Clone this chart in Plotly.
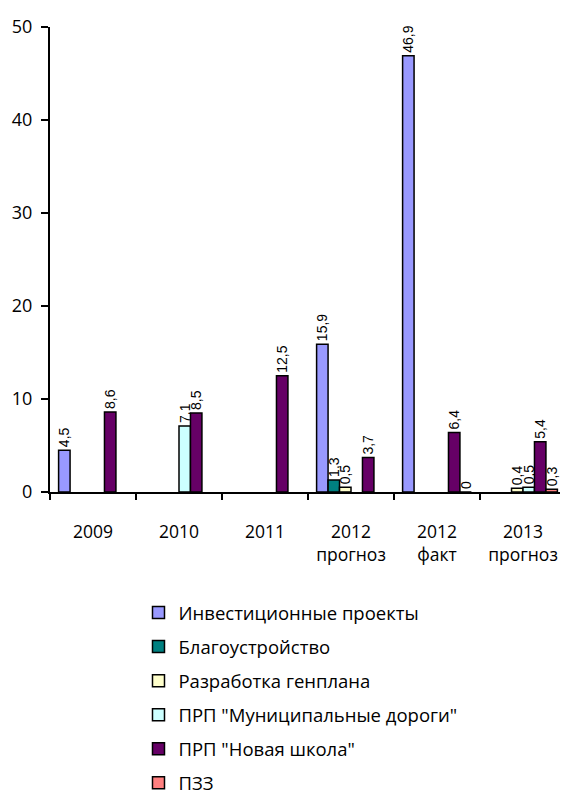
import plotly.graph_objects as go

categories = ["2009", "2010", "2011", "2012<br>прогноз", "2012<br>факт", "2013<br>прогноз"]

series_names = [
    "Инвестиционные проекты",
    "Благоустройство",
    "Разработка генплана",
    "ПРП \"Муниципальные дороги\"",
    "ПРП \"Новая школа\"",
    "ПЗЗ",
]
invest = [4.5, None, None, 15.9, 46.9, None]
blago = [None, None, None, 1.3, None, None]
genplan = [None, None, None, 0.5, None, 0.4]
dorogi = [None, 7.1, None, None, None, 0.5]
shkola = [8.6, 8.5, 12.5, 3.7, 6.4, 5.4]
pzz = [None, None, None, None, 0, 0.3]

colors = ["#9999FF", "#008080", "#FFFFCC", "#CCFFFF", "#660066", "#FF8080"]
values = [invest, blago, genplan, dorogi, shkola, pzz]

fig = go.Figure()
for i, (name, vals, col) in enumerate(zip(series_names, values, colors)):
    fig.add_trace(go.Bar(
        x=categories, y=vals, name=name,
        marker=dict(color=col, line=dict(color="black", width=1.5)),
        texttemplate="%{y}", textposition="outside", textangle=-90,
        constraintext="none",
        textfont=dict(family="Liberation Sans", size=14, color="black"),
        cliponaxis=False, legendgroup="g%d" % i,
    ))

fig.update_layout(
    width=560, height=810,
    margin=dict(l=42, r=2, t=19, b=326),
    paper_bgcolor="white", plot_bgcolor="white",
    separators=",.",
    barmode="group", bargap=0.2, bargroupgap=0,
    font=dict(family="Open Sans", size=14, color="black"),
    showlegend=True,
    legend=dict(
        x=0.1715, y=-0.2194, xanchor="left", yanchor="top",
        orientation="v", tracegroupgap=7,
        font=dict(family="Open Sans", size=18.5, color="black"),
        itemwidth=30,
    ),
)
fig.update_xaxes(
    type="category", showline=True, linecolor="black", linewidth=2,
    ticks="outside", tickson="boundaries", ticklen=6, tickwidth=2, tickcolor="black",
    tickfont=dict(family="Open Sans", size=17.5, color="black"),
    ticklabelstandoff=23,
    showgrid=False, zeroline=False, automargin=False,
)
fig.update_yaxes(
    range=[0, 50], dtick=10, showline=True, linecolor="black", linewidth=2,
    ticks="outside", ticklen=7, tickwidth=2, tickcolor="black",
    tickfont=dict(family="Open Sans", size=18, color="black"),
    ticklabelstandoff=5,
    showgrid=False, zeroline=False, automargin=False,
)

fig.write_html("out.html")
